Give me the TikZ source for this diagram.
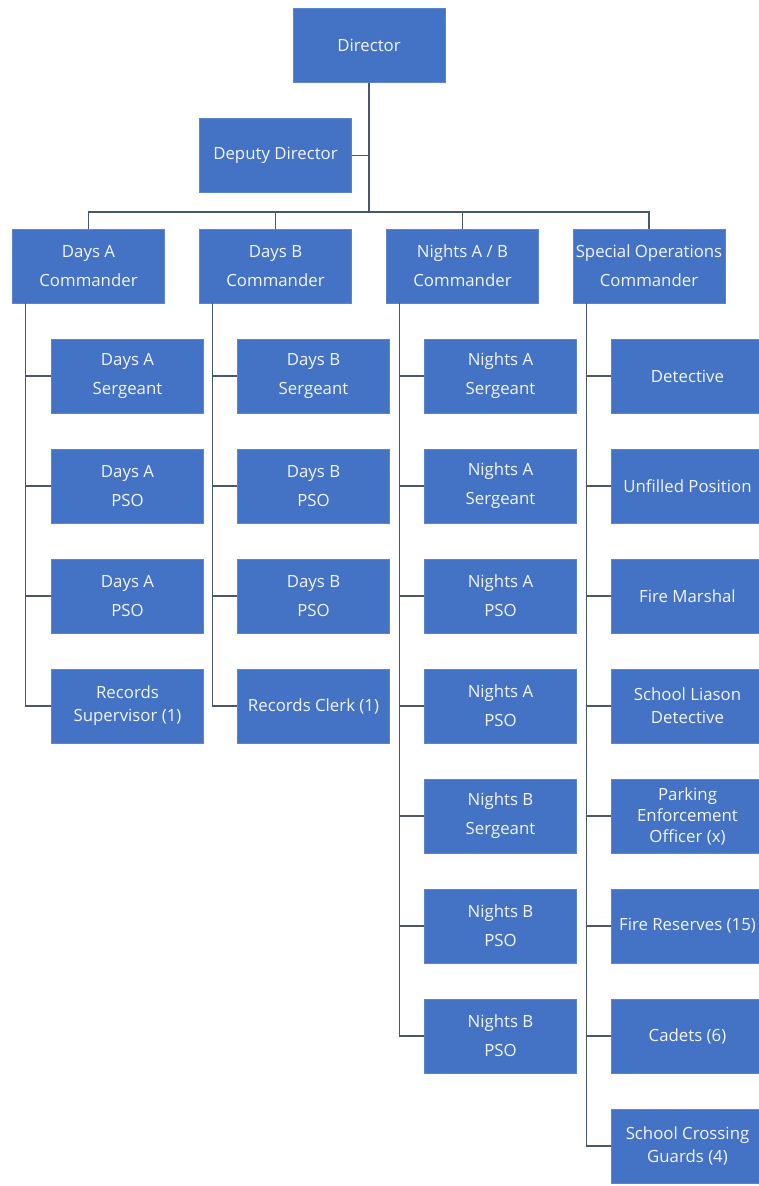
\documentclass[tikz,border=0pt]{standalone}
\usepackage{fontspec}
\setmainfont{Open Sans}
\definecolor{boxblue}{HTML}{4472C4}
\definecolor{boxedge}{HTML}{5B86CF}
\definecolor{linecol}{HTML}{4A5670}
\definecolor{txtcol}{HTML}{F2F5FB}
\begin{document}
\begin{tikzpicture}[x=1pt,y=-1pt,
  orgbox/.style={draw=boxedge,line width=0.6pt,fill=boxblue,text=txtcol,
    minimum width=152pt,minimum height=74pt,inner sep=0pt,align=center,
    font=\fontsize{16.8}{29}\selectfont},
  tightbox/.style={orgbox,font=\fontsize{16.8}{23}\selectfont},
  tighterbox/.style={orgbox,font=\fontsize{16.8}{21}\selectfont},
  conn/.style={draw=linecol,line width=1.4pt}]
\useasboundingbox (0,0) rectangle (759,1186);
\fill[white] (0,0) rectangle (759,1186);
% top
\node[orgbox] (dir) at (369,45.5) {Director};
\node[orgbox] (dep) at (275.5,155.5) {Deputy Director};
% commanders
\node[orgbox] (cA) at (88.5,266) {Days A\\Commander};
\node[orgbox] (cB) at (275.5,266) {Days B\\Commander};
\node[orgbox] (cN) at (462.5,266) {Nights A / B\\Commander};
\node[orgbox] (cS) at (649,266) {Special Operations\\Commander};
% Days A
\node[orgbox] (a1) at (127.5,376) {Days A\\Sergeant};
\node[orgbox] (a2) at (127.5,486) {Days A\\PSO};
\node[orgbox] (a3) at (127.5,596) {Days A\\PSO};
\node[tightbox] (a4) at (127.5,706) {Records\\Supervisor (1)};
% Days B
\node[orgbox] (b1) at (313.5,376) {Days B\\Sergeant};
\node[orgbox] (b2) at (313.5,486) {Days B\\PSO};
\node[orgbox] (b3) at (313.5,596) {Days B\\PSO};
\node[orgbox] (b4) at (313.5,706) {Records Clerk (1)};
% Nights
\node[orgbox] (n1) at (500.5,376) {Nights A\\Sergeant};
\node[orgbox] (n2) at (500.5,486) {Nights A\\Sergeant};
\node[orgbox] (n3) at (500.5,596) {Nights A\\PSO};
\node[orgbox] (n4) at (500.5,706) {Nights A\\PSO};
\node[orgbox] (n5) at (500.5,816) {Nights B\\Sergeant};
\node[orgbox] (n6) at (500.5,926) {Nights B\\PSO};
\node[orgbox] (n7) at (500.5,1036) {Nights B\\PSO};
% Special
\node[orgbox] (s1) at (687.5,376) {Detective};
\node[orgbox] (s2) at (687.5,486) {Unfilled Position};
\node[orgbox] (s3) at (687.5,596) {Fire Marshal};
\node[tightbox] (s4) at (687.5,706) {School Liason\\Detective};
\node[tighterbox] (s5) at (687.5,816) {Parking\\Enforcement\\Officer (x)};
\node[orgbox] (s6) at (687.5,926) {Fire Reserves (15)};
\node[orgbox] (s7) at (687.5,1036) {Cadets (6)};
\node[tightbox] (s8) at (687.5,1146) {School Crossing\\Guards (4)};
% top connectors
\coordinate (bar) at (369,212);
\draw[conn] (dir.south) -- (bar);
\draw[conn] (dep.east) -- (dep.east -| dir.south);
\draw[conn] (cA.north) |- (bar) -| (cS.north);
\draw[conn] (cB.north) -- (cB.north |- bar);
\draw[conn] (cN.north) -- (cN.north |- bar);
% column spines
\coordinate (la) at ([xshift=13.5pt]cA.south west);
\coordinate (lb) at ([xshift=13.5pt]cB.south west);
\coordinate (ln) at ([xshift=13.5pt]cN.south west);
\coordinate (ls) at ([xshift=13.5pt]cS.south west);
\draw[conn] (la) |- (a4.west);
\foreach \n in {a1,a2,a3} \draw[conn] (la |- \n.west) -- (\n.west);
\draw[conn] (lb) |- (b4.west);
\foreach \n in {b1,b2,b3} \draw[conn] (lb |- \n.west) -- (\n.west);
\draw[conn] (ln) |- (n7.west);
\foreach \n in {n1,n2,n3,n4,n5,n6} \draw[conn] (ln |- \n.west) -- (\n.west);
\draw[conn] (ls) |- (s8.west);
\foreach \n in {s1,s2,s3,s4,s5,s6,s7} \draw[conn] (ls |- \n.west) -- (\n.west);
\end{tikzpicture}
\end{document}
